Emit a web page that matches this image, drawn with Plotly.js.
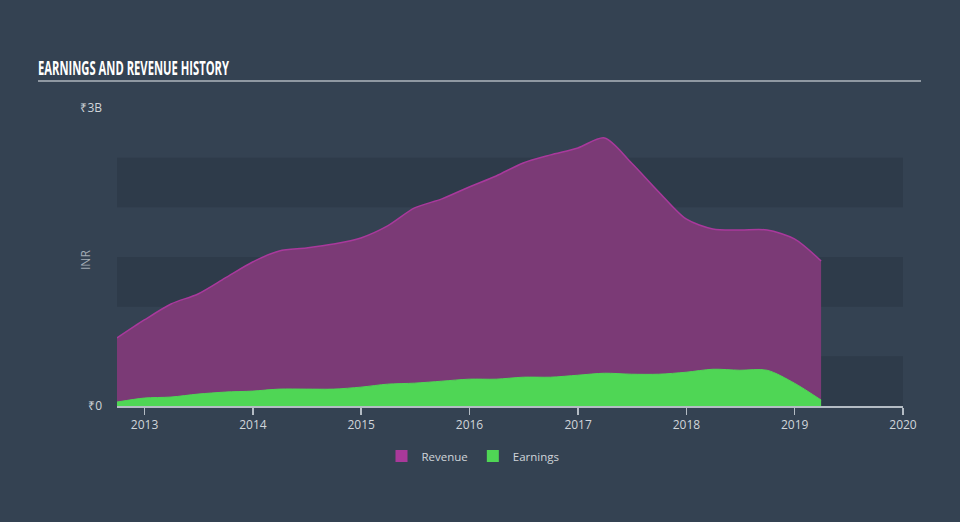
<!DOCTYPE html>
<html>
<head>
<meta charset="utf-8">
<script src="https://cdn.plot.ly/plotly-3.0.1.min.js"></script>
<style>
html,body{margin:0;padding:0;background:#344252;}
#chart{width:960px;height:522px;}
</style>
</head>
<body>
<div id="chart"></div>
<script>
// Quarter-end dates (trailing twelve months)
const dates = ['2012-09-30','2012-12-31','2013-03-31','2013-06-30','2013-09-30','2013-12-31',
  '2014-03-31','2014-06-30','2014-09-30','2014-12-31','2015-03-31','2015-06-30','2015-09-30',
  '2015-12-31','2016-03-31','2016-06-30','2016-09-30','2016-12-31','2017-03-31','2017-06-30',
  '2017-09-30','2017-12-31','2018-03-31','2018-06-30','2018-09-30','2018-12-31','2019-03-31'];
// INR billions
const revenue = [0.685,0.866,1.027,1.128,1.289,1.450,1.561,1.591,1.631,1.692,1.813,1.994,2.085,
  2.205,2.316,2.447,2.528,2.598,2.699,2.447,2.155,1.883,1.782,1.772,1.772,1.682,1.460];
const earnings = [0.04,0.08,0.09,0.12,0.14,0.15,0.17,0.17,0.17,0.19,0.22,0.23,0.25,
  0.27,0.27,0.29,0.29,0.31,0.33,0.32,0.32,0.34,0.37,0.36,0.36,0.23,0.06];
const yearTicks = ['2013-01-01','2014-01-01','2015-01-01','2016-01-01','2017-01-01','2018-01-01','2019-01-01','2020-01-01'];
const yearLabels = ['2013','2014','2015','2016','2017','2018','2019','2020'];
const yTickVals = [0, 3];
const yTickText = ['₹0', '₹3B'];
const bandStarts = [0, 1, 2];
const seriesNames = ['Revenue', 'Earnings'];

const revColor = '#7b3a76', revLine = '#a9399c', revLegend = '#a9399a';
const earnColor = '#4fd655';

const traces = [
  {x: dates, y: revenue, type: 'scatter', mode: 'lines', fill: 'tozeroy',
   fillcolor: revColor, line: {color: revLine, width: 1.5, shape: 'spline', smoothing: 0.8},
   showlegend: false, hoverinfo: 'skip'},
  {x: dates, y: earnings, type: 'scatter', mode: 'lines', fill: 'tozeroy',
   fillcolor: earnColor, line: {color: earnColor, width: 1, shape: 'spline', smoothing: 0.8},
   showlegend: false, hoverinfo: 'skip'},
  {x: [null], y: [null], type: 'bar', name: seriesNames[0], marker: {color: revLegend}, showlegend: true},
  {x: [null], y: [null], type: 'bar', name: seriesNames[1], marker: {color: earnColor}, showlegend: true}
];

const shapes = bandStarts.map(b => ({
  type: 'rect', xref: 'paper', yref: 'y', x0: 0, x1: 1, y0: b, y1: b + 0.5,
  fillcolor: '#2e3b4a', line: {width: 0}, layer: 'below'
}));
shapes.push({type: 'line', xref: 'paper', yref: 'paper', x0: -0.1005, x1: 1.0229,
  y0: 1.0906, y1: 1.0906, line: {color: '#aeb6be', width: 1.5}});

const layout = {
  width: 960, height: 522,
  paper_bgcolor: '#344252', plot_bgcolor: '#344252',
  margin: {l: 117, r: 57, t: 108, b: 116},
  font: {family: 'Open Sans, sans-serif', color: '#d0d5da', size: 12},
  title: {text: 'EARNINGS AND REVENUE HISTORY', xref: 'container', yref: 'container',
    x: 38/960, xanchor: 'left', y: 1 - 68/522, yanchor: 'middle',
    font: {family: 'Open Sans, sans-serif', size: 19, color: '#ffffff', weight: 'bold'}},
  xaxis: {type: 'date', range: ['2012-09-30', '2020-01-01'], tickvals: yearTicks, ticktext: yearLabels,
    showgrid: false, zeroline: false, showline: true, linecolor: '#b4bcc4', linewidth: 1.5,
    ticks: 'outside', ticklen: 7, tickcolor: '#b4bcc4', tickwidth: 1.5,
    tickfont: {size: 12, color: '#d0d5da'}, fixedrange: true},
  yaxis: {range: [0, 3], tickvals: yTickVals, ticktext: yTickText, showgrid: false, zeroline: false,
    showline: false, ticks: '', tickfont: {size: 12, color: '#d0d5da'}, fixedrange: true,
    ticklabelstandoff: 14},
  annotations: [{text: 'INR', xref: 'paper', yref: 'paper', x: (85-117)/786, y: (406-260)/298,
    xanchor: 'center', yanchor: 'middle', textangle: -90, showarrow: false,
    font: {size: 12, color: '#a3acb5'}}],
  shapes: shapes,
  showlegend: true,
  legend: {orientation: 'h', x: (473-117)/786, xanchor: 'center', y: (406-456)/298, yanchor: 'middle',
    font: {size: 11.5, color: '#d0d5da'}, bgcolor: 'rgba(0,0,0,0)', itemclick: false, itemwidth: 30},
  hovermode: false
};

Plotly.newPlot('chart', traces, layout, {displayModeBar: false, staticPlot: true}).then(function () {
  const t = document.querySelector('#chart .gtitle');
  if (t) {
    t.setAttribute('textLength', '191');
    t.setAttribute('lengthAdjust', 'spacingAndGlyphs');
  }
});
</script>
</body>
</html>
